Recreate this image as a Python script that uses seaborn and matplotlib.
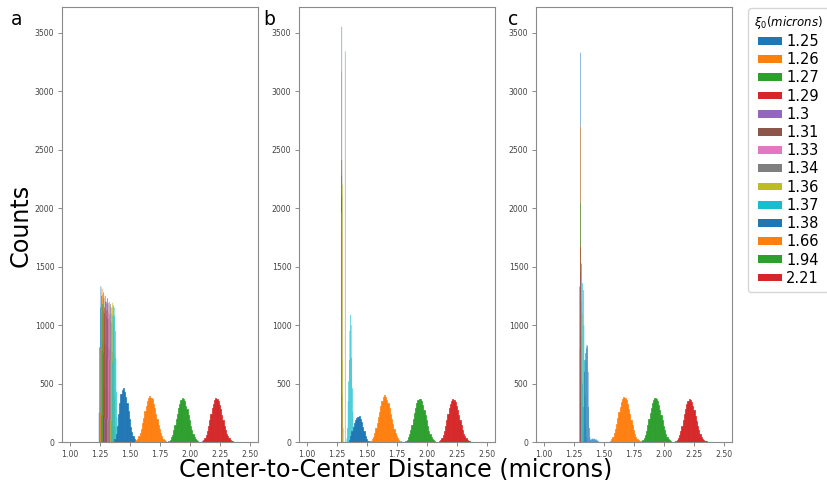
import numpy as np
import pandas as pd
import matplotlib
matplotlib.use("Agg")
import matplotlib.pyplot as plt
from matplotlib.patches import Patch
import seaborn as sns

# ---------------- data ----------------
labels = ["1.25", "1.26", "1.27", "1.29", "1.3", "1.31", "1.33", "1.34",
          "1.36", "1.37", "1.38", "1.66", "1.94", "2.21"]
panel_names = ["a", "b", "c"]

# panel a: left edge of first bin, bin width, counts per bin
a_start = [1.240, 1.250, 1.260, 1.275, 1.285, 1.295, 1.310, 1.320, 1.335, 1.345,
           1.37, 1.54, 1.81, 2.09]
a_width = [0.005] * 10 + [0.01] * 4
a125 = [250, 810, 1150, 1330, 1250, 1100, 850, 480, 180, 50]
a126 = [240, 800, 1200, 1310, 1260, 1120, 860, 470, 170, 40]
a127 = [230, 780, 1180, 1280, 1230, 1100, 840, 460, 160, 40]
a129 = [220, 760, 1150, 1250, 1200, 1080, 820, 440, 150, 40]
a130 = [210, 740, 1120, 1200, 1180, 1050, 800, 420, 150, 40]
a131 = [200, 730, 1130, 1230, 1190, 1060, 800, 410, 140, 40]
a133 = [200, 720, 1110, 1200, 1170, 1040, 780, 400, 140, 40]
a134 = [190, 700, 1090, 1180, 1150, 1020, 770, 390, 130, 30]
a136 = [190, 700, 1100, 1190, 1150, 1020, 760, 380, 130, 30]
a137 = [180, 680, 1080, 1170, 1150, 1080, 950, 720, 430, 210, 80, 20]
a138 = [25, 70, 140, 240, 335, 410, 448, 462, 430, 385, 330, 262, 195, 128, 84, 48, 26, 12, 6, 2]
a166 = [6, 14, 27, 48, 78, 112, 165, 208, 262, 305, 352, 378, 394, 380, 364, 325,
        292, 238, 198, 148, 112, 74, 52, 28, 18, 9, 4, 2]
a194 = [4, 9, 21, 42, 63, 102, 142, 198, 242, 294, 328, 362, 376, 368, 352, 312,
        278, 228, 188, 138, 102, 66, 45, 25, 15, 7, 3, 1]
a221 = [3, 8, 17, 36, 58, 96, 138, 192, 238, 292, 328, 358, 376, 370, 352, 316,
        280, 230, 188, 140, 106, 70, 50, 30, 19, 11, 6, 3, 2, 1]

# panel b
b_start = [1.284, 1.284, 1.284, 1.284, 1.284, 1.288, 1.288, 1.316, 1.292, 1.33,
           1.35, 1.52, 1.81, 2.09]
b_width = [0.004] * 9 + [0.005] + [0.01] * 4
b125 = [1800, 3550, 300]
b126 = [600, 3170, 200]
b127 = [500, 2280, 150]
b129 = [400, 2100, 150]
b130 = [300, 1790, 200]
b131 = [2410, 400, 100]
b133 = [1960, 300, 80]
b134 = [3340]
b136 = [2200, 700, 120]
b137 = [30, 120, 350, 520, 700, 950, 1087, 1000, 720, 460, 260, 130, 60, 20]
b138 = [20, 50, 92, 128, 166, 188, 206, 214, 222, 200, 172, 128, 92, 55, 28, 12, 5]
b166 = [5, 12, 26, 46, 80, 118, 160, 212, 258, 312, 348, 382, 400, 388, 362, 330,
        288, 242, 196, 150, 108, 76, 50, 30, 17, 9, 4, 2]
b194 = [3, 9, 20, 40, 66, 100, 146, 194, 246, 288, 332, 358, 372, 366, 348, 316,
        274, 232, 184, 140, 98, 68, 44, 27, 15, 8, 3, 1]
b221 = [3, 7, 18, 34, 60, 94, 140, 188, 242, 288, 326, 354, 364, 360, 346, 312,
        276, 228, 184, 142, 104, 72, 48, 30, 18, 10, 6, 3, 2, 1]

# panel c
c_start = [1.296, 1.296, 1.300, 1.300, 1.300, 1.304, 1.308, 1.308, 1.312, 1.315,
           1.33, 1.54, 1.80, 2.085]
c_width = [0.004] * 9 + [0.005, 0.005] + [0.01] * 3
c125 = [1330, 1000, 3330]
c126 = [800, 1100, 2700]
c127 = [400, 2050, 300]
c129 = [300, 1670, 500]
c130 = [200, 1400, 600]
c131 = [1450, 900, 200]
c133 = [1530, 800, 200]
c134 = [1520, 1200, 300]
c136 = [1360, 1100, 500, 100]
c137 = [500, 1360, 1300, 1000, 700, 400, 150, 40]
c138 = [300, 600, 700, 760, 800, 830, 820, 600, 300, 120, 40, 20, 15, 25, 30, 20,
        25, 30, 22, 15, 25, 20, 15, 10, 5, 3]
c166 = [4, 10, 24, 44, 76, 114, 158, 206, 256, 302, 344, 372, 385, 378, 356, 322,
        282, 236, 190, 146, 104, 70, 46, 28, 16, 8, 4, 2]
c194 = [3, 8, 19, 38, 64, 98, 144, 196, 244, 290, 330, 360, 376, 368, 350, 314,
        276, 230, 186, 140, 100, 68, 44, 26, 14, 7, 3, 1]
c221 = [2, 6, 15, 30, 56, 90, 134, 184, 236, 284, 322, 350, 366, 362, 344, 310,
        272, 226, 182, 140, 102, 70, 46, 28, 16, 9, 5, 3, 2, 1]

a_counts = [a125, a126, a127, a129, a130, a131, a133, a134, a136, a137, a138, a166, a194, a221]
b_counts = [b125, b126, b127, b129, b130, b131, b133, b134, b136, b137, b138, b166, b194, b221]
c_counts = [c125, c126, c127, c129, c130, c131, c133, c134, c136, c137, c138, c166, c194, c221]

x_ticks = [1.00, 1.25, 1.50, 1.75, 2.00, 2.25, 2.50]
y_ticks = [0, 500, 1000, 1500, 2000, 2500, 3000, 3500]

# ---------------- plot ----------------
colors = sns.color_palette("tab10", 10)
series_colors = [colors[i % 10] for i in range(len(labels))]

W, H = 828, 480
fig = plt.figure(figsize=(W / 100, H / 100), dpi=100)
plt.rcParams['font.family'] = ['DejaVu Sans']

lefts = [62, 299, 536]
letter_x = [11, 263, 508]
ax_w, ax_top, ax_bot = 196, 7, 442
panels = [(a_start, a_width, a_counts), (b_start, b_width, b_counts),
          (c_start, c_width, c_counts)]

spine_col = "#8a8a8a"
for p, (starts, widths, counts) in enumerate(panels):
    ax = fig.add_axes([lefts[p] / W, 1 - ax_bot / H, ax_w / W, (ax_bot - ax_top) / H])
    for i, lab in enumerate(labels):
        cnt = np.asarray(counts[i], dtype=float)
        edges = starts[i] + widths[i] * np.arange(len(cnt) + 1)
        centers = (edges[:-1] + edges[1:]) / 2
        df = pd.DataFrame({"x": centers, "w": cnt})
        thin = widths[i] < 0.009
        if thin:
            style = dict(linewidth=0, edgecolor="none", snap=False)
        else:
            style = dict(linewidth=0.5, edgecolor=series_colors[i])
        sns.histplot(data=df, x="x", weights="w", bins=[float(e) for e in edges],
                     color=series_colors[i], alpha=1, ax=ax, **style)
    ax.set_xlim(0.933, 2.567)
    ax.set_ylim(0, 3720)
    ax.set_xticks(x_ticks)
    ax.set_xticklabels([f"{t:.2f}" for t in x_ticks])
    ax.set_yticks(y_ticks)
    ax.set_xlabel("")
    ax.set_ylabel("")
    ax.tick_params(labelsize=5.6, colors="#444444", length=3, width=0.7, pad=2.5)
    ax.tick_params(color=spine_col)
    for s in ax.spines.values():
        s.set_color(spine_col)
        s.set_linewidth(0.8)
    fig.text(letter_x[p] / W, 1 - 25 / H, panel_names[p], fontsize=13.5,
             ha="left", va="baseline", color="black")

fig.text(21 / W, 1 - 225 / H, "Counts", rotation=90, fontsize=17.2,
         ha="center", va="center")
fig.text(396 / W, 1 - 476 / H, "Center-to-Center Distance (microns)", fontsize=17.2,
         ha="center", va="baseline")

handles = [Patch(facecolor=series_colors[i], edgecolor="none", label=labels[i])
           for i in range(len(labels))]
leg = fig.legend(handles=handles, loc="upper left",
                 bbox_to_anchor=(748 / W, 1 - 8 / H), borderaxespad=0,
                 fontsize=10.5, title=r"$\xi_0(microns)$", title_fontsize=8.5,
                 handlelength=1.65, handleheight=0.45, handletextpad=0.3,
                 labelspacing=0.22, borderpad=0.4, frameon=True)
leg.get_frame().set_edgecolor("#cccccc")

fig.savefig("out.png", dpi=100)
